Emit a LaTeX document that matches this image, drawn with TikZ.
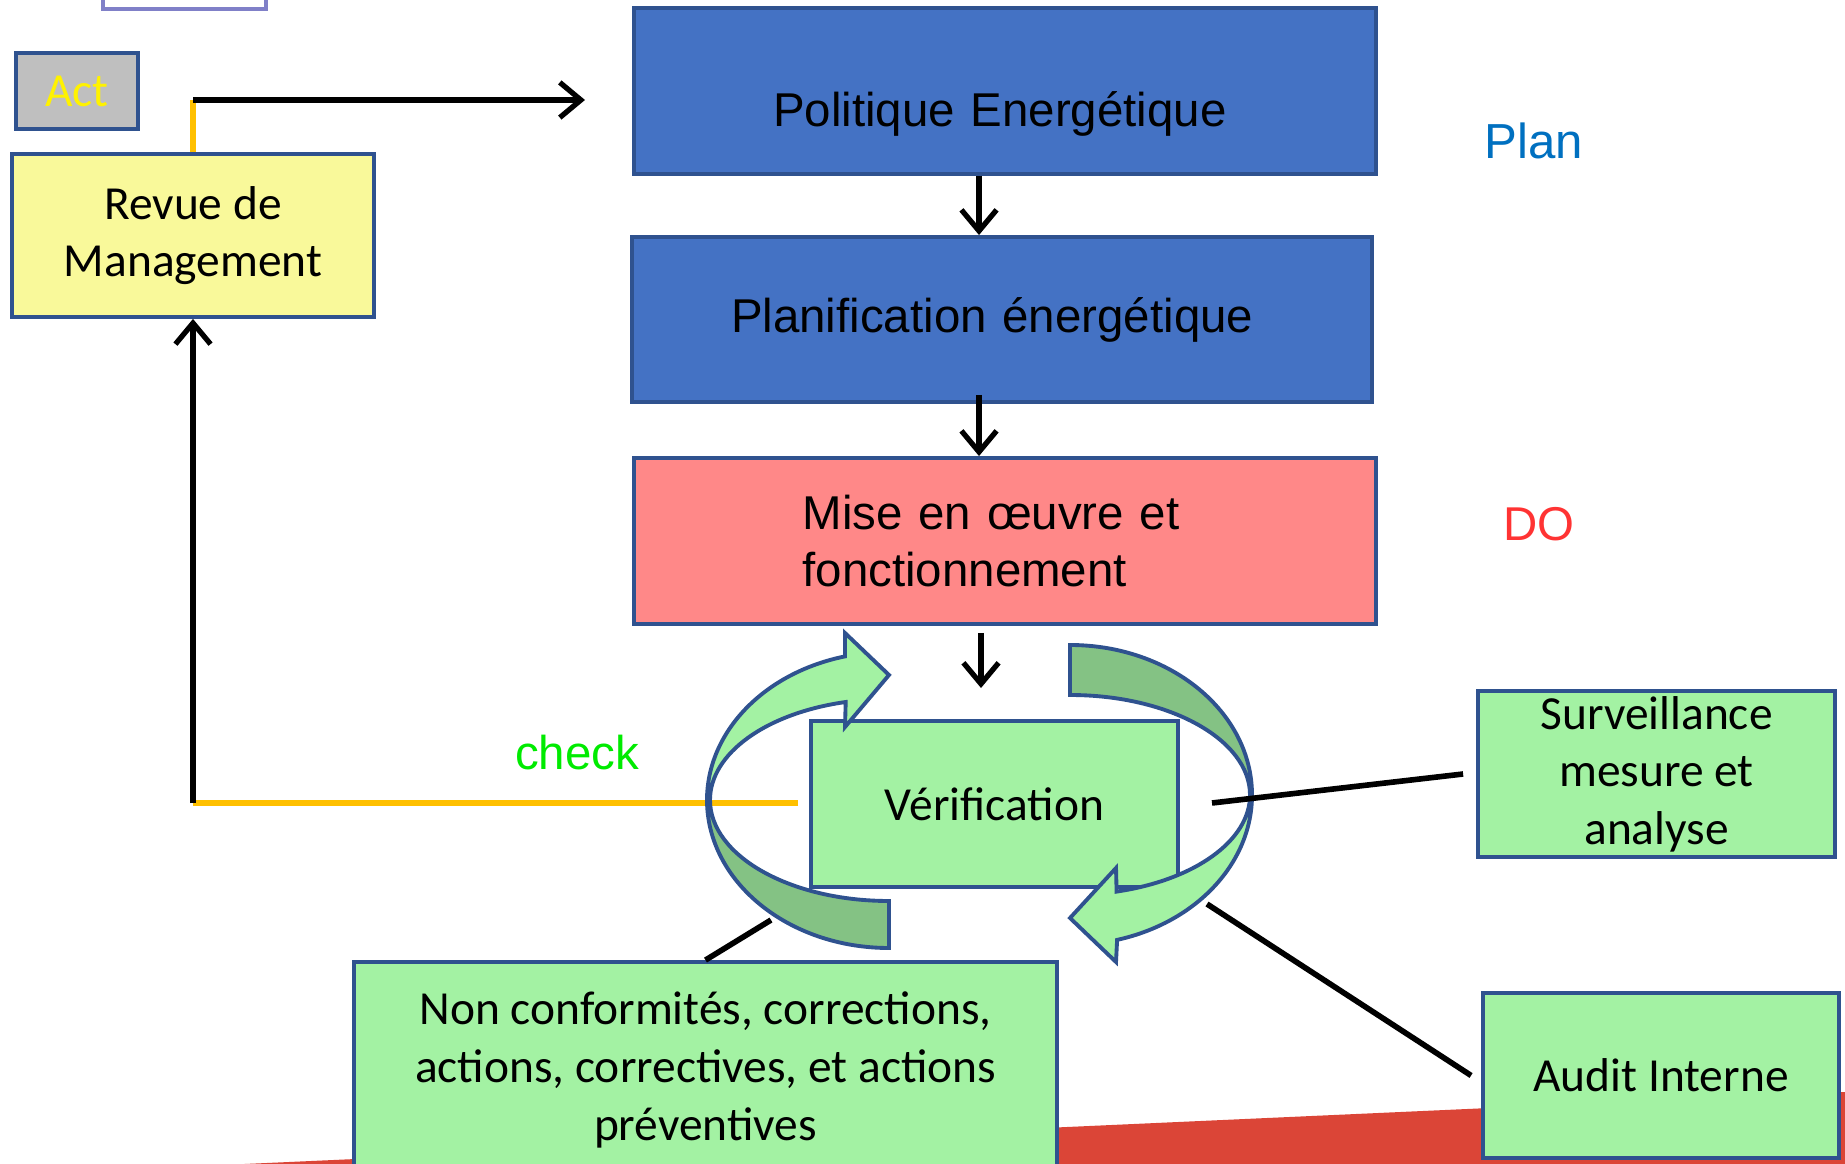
\documentclass[tikz,border=0pt]{standalone}
\usepackage{fontspec}
\setmainfont{Liberation Sans}
\newfontfamily\calib{Carlito}
\usetikzlibrary{arrows.meta}
\definecolor{bord}{RGB}{47,82,143}
\definecolor{bleu}{RGB}{68,114,196}
\definecolor{rose}{RGB}{255,136,136}
\definecolor{vert}{RGB}{163,242,163}
\definecolor{vertf}{RGB}{132,194,132}
\definecolor{jaune}{RGB}{249,249,154}
\definecolor{gris}{RGB}{191,191,191}
\definecolor{orangetrait}{RGB}{255,192,0}
\definecolor{rouge}{RGB}{219,69,55}
\definecolor{lilas}{RGB}{128,128,200}
\definecolor{planbleu}{RGB}{0,112,192}
\definecolor{dorouge}{RGB}{255,51,51}
\definecolor{checkvert}{RGB}{0,235,0}

\begin{document}
\begin{tikzpicture}[
  box/.style={draw=bord,line width=1.1pt,inner sep=0pt,align=center,
    font=\fontsize{13.5}{16.4}\selectfont},
  calibri/.style={font=\calib\fontsize{13.5}{16.4}\selectfont},
  bluebox/.style={box,fill=bleu,minimum width=7.42cm,minimum height=1.66cm},
  greenbox/.style={box,fill=vert,calibri},
  ring/.style={draw=bord,line width=1.1pt},
  fleche/.style={line width=1.5pt,-{Straight Barb[length=6pt,width=10pt]}},
  jaunetrait/.style={orangetrait,line width=1.7pt},
  trait/.style={line width=1.6pt}]
\fill[white] (0,0) rectangle (18.45,-11.64);
\useasboundingbox (0,0) rectangle (18.45,-11.64);
\fill[rouge] (2.00,-11.66) -- (18.45,-10.92) -- (18.45,-11.64) -- (2.00,-11.64) -- cycle;
\draw[lilas,line width=1pt] (1.03,0.5) rectangle (2.66,-0.09);

\node[box,fill=gris,calibri,text=yellow,minimum width=1.22cm,minimum height=0.76cm] (act) at (0.77,-0.91) {Act};
\node[box,fill=jaune,calibri,minimum width=3.62cm,minimum height=1.63cm] (revue) at (1.93,-2.355) {Revue de\\Management};
\node[bluebox,text height=0.80cm,align=left,text width=4.64cm] (pol) at (10.05,-0.91) {Politique Energétique};
\node[bluebox,minimum width=7.40cm,minimum height=1.65cm,align=left,text width=5.42cm] (plani) at (10.02,-3.195) {Planification énergétique};
\node[bluebox,fill=rose,align=left,text width=4.05cm] (mise) at (10.05,-5.41) {Mise en œuvre et\\fonctionnement};
\node[greenbox,minimum width=3.67cm,minimum height=1.66cm] (verif) at (9.945,-8.04) {Vérification};
\node[greenbox,minimum width=3.57cm,minimum height=1.66cm] (surv) at (16.565,-7.74) {Surveillance\\mesure et\\analyse};
\node[greenbox,minimum width=3.56cm,minimum height=1.65cm] (audit) at (16.61,-10.755) {Audit Interne};
\node[greenbox,minimum width=7.03cm,minimum height=2.16cm] (nonconf) at (7.055,-10.70) {Non conformités, corrections,\\actions, correctives, et actions\\préventives};

\node[text=planbleu,font=\fontsize{14}{16}\selectfont] (plan) at (15.34,-1.41) {Plan};
\node[text=dorouge,font=\fontsize{13.5}{16}\selectfont] (do) at (15.39,-5.24) {DO};
\node[text=checkvert,font=\fontsize{13.5}{16}\selectfont] (check) at (5.77,-7.53) {check};

\coordinate (ctop) at (1.93,-1.00);
\coordinate (polin) at (5.85,-1.00);
\coordinate (vtip) at (9.81,-6.88);
\coordinate (cgauche) at (7.98,-8.03);
\coordinate (ccoin) at (1.93,-8.03);
\coordinate (s1) at (12.12,-8.03);
\coordinate (a1) at (12.07,-9.04);
\coordinate (n1) at (7.71,-9.20);

\draw[jaunetrait] (revue.north) -- (ctop);
\draw[fleche] (ctop) -- (polin);
\draw[fleche] ([xshift=-0.26cm]pol.south) -- ([xshift=-0.23cm]plani.north);
\draw[fleche] ([xshift=-0.23cm,yshift=0.09cm]plani.south) -- ([xshift=-0.26cm]mise.north);
\draw[fleche] ([xshift=-0.24cm,yshift=-0.07cm]mise.south) -- (vtip);
\draw[jaunetrait] (cgauche) -- (ccoin);
\draw[fleche] (ccoin) -- (revue.south);

\draw[ring,fill=vertf] (8.89,-9.48) arc[start angle=270,end angle=180,x radius=1.82,y radius=1.48]
  -- (7.10,-8.00) arc[start angle=180,end angle=270,x radius=1.79,y radius=1.01] -- cycle;
\draw[ring,fill=vert] (8.4497,-6.564) arc[start angle=104,end angle=180,x radius=1.82,y radius=1.48]
  -- (7.10,-8.00) arc[start angle=180,end angle=104,x radius=1.79,y radius=1.01]
  -- (8.45,-7.27) -- (8.89,-6.75) -- (8.45,-6.33) -- cycle;
\draw[ring,fill=vertf] (10.70,-6.45) arc[start angle=90,end angle=0,x radius=1.82,y radius=1.50]
  -- (12.50,-7.95) arc[start angle=0,end angle=90,x radius=1.80,y radius=1.00] -- cycle;
\draw[ring,fill=vert] (12.52,-7.95) arc[start angle=0,end angle=-75,x radius=1.82,y radius=1.50]
  -- (11.16,-9.62) -- (10.70,-9.18) -- (11.16,-8.68) -- (11.166,-8.916)
  arc[start angle=-75,end angle=0,x radius=1.80,y radius=1.00] -- cycle;

\draw[trait] (s1) -- ([xshift=-0.13cm]surv.west);
\draw[trait] (a1) -- ([xshift=-0.10cm]audit.west);
\draw[trait] (nonconf.north) -- (n1);
\end{tikzpicture}
\end{document}
